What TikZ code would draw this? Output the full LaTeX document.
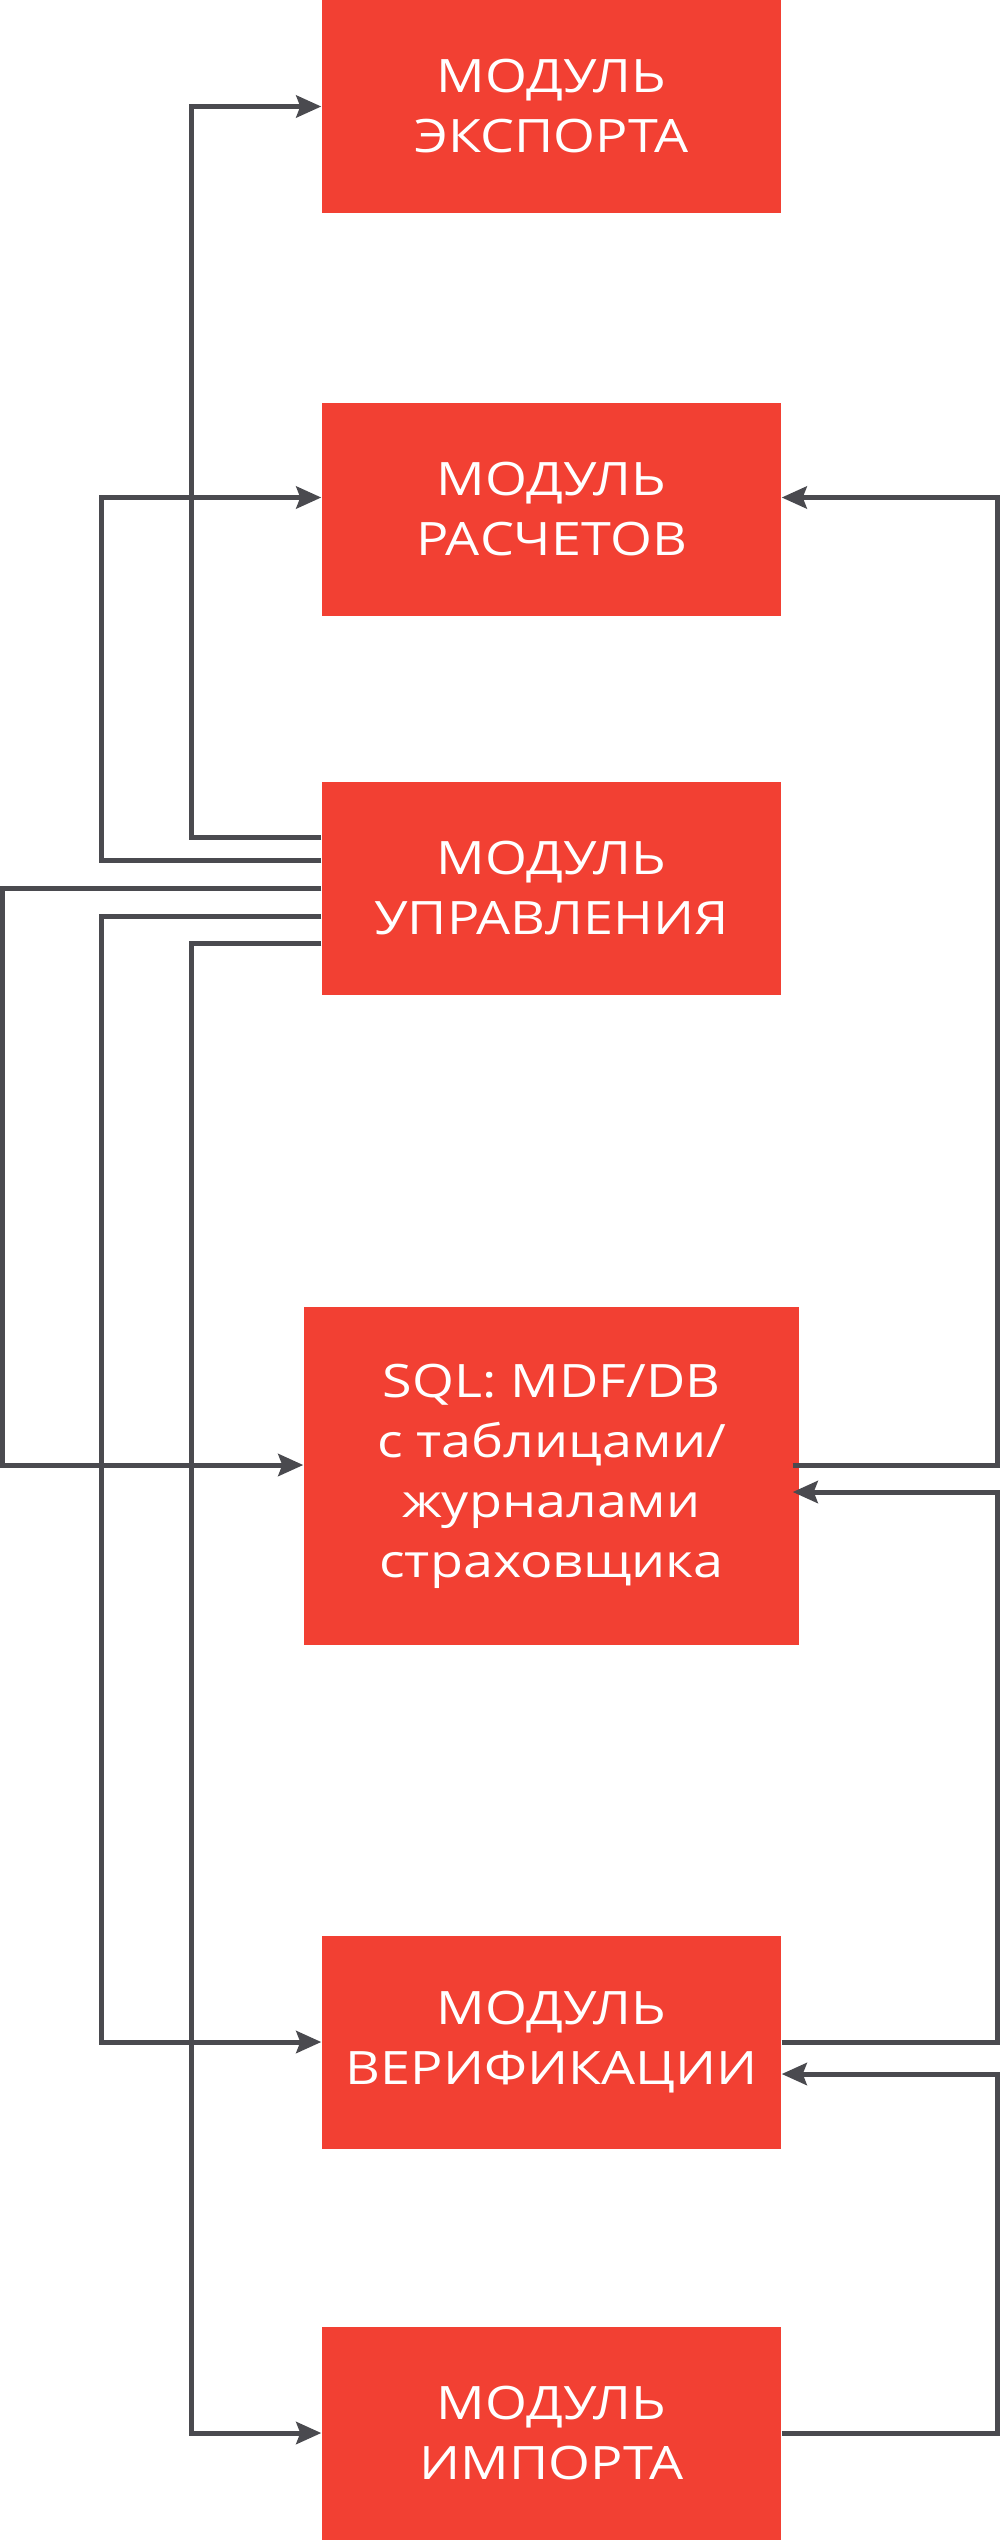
\documentclass[tikz,border=0pt]{standalone}
\usepackage{fontspec}
\setmainfont{Open Sans}[FakeStretch=1.17]
\usepackage{tikz}
\usetikzlibrary{calc, arrows.meta}
\definecolor{modRed}{RGB}{242,64,51}
\definecolor{wireGray}{RGB}{74,74,79}

\begin{document}
\begin{tikzpicture}[
  modbox/.style={fill=modRed, draw=none, text=white, align=center, inner sep=0pt,
    minimum width=4.59cm, minimum height=2.13cm, font=\fontsize{13.1}{17.07}\selectfont},
  wire/.style={draw=wireGray, line width=0.05cm},
  feed/.style={wire, -{Stealth[length=0.25cm, width=0.22cm, inset=0.04cm]}}
]
  \useasboundingbox (0,0) rectangle (10,-25.4);

  % columns of the wires
  \coordinate (xA) at (0.025,0);
  \coordinate (xB) at (1.015,0);
  \coordinate (xC) at (1.915,0);
  \coordinate (xR) at (9.975,0);

  \node[modbox] (export) at (5.515,-1.065) {МОДУЛЬ\\ЭКСПОРТА};
  \node[modbox] (calc) at (5.515,-5.095) {МОДУЛЬ\\РАСЧЕТОВ};
  \node[modbox] (ctrl) at (5.515,-8.885) {МОДУЛЬ\\УПРАВЛЕНИЯ};
  \node[modbox, minimum width=4.95cm, minimum height=3.38cm] (sql) at (5.515,-14.76)
    {SQL: MDF/DB\\с таблицами/\\журналами\\страховщика};
  \node[modbox] (verif) at (5.515,-20.42) {МОДУЛЬ\\ВЕРИФИКАЦИИ};
  \node[modbox] (imp) at (5.515,-24.33) {МОДУЛЬ\\ИМПОРТА};

  % ports
  \coordinate (c1) at ([yshift=0.51cm]ctrl.west);
  \coordinate (c2) at ([yshift=0.28cm]ctrl.west);
  \coordinate (c3) at (ctrl.west);
  \coordinate (c4) at ([yshift=-0.28cm]ctrl.west);
  \coordinate (c5) at ([yshift=-0.55cm]ctrl.west);
  \coordinate (calcL) at ([yshift=0.12cm]calc.west);
  \coordinate (calcR) at ([yshift=0.12cm]calc.east);
  \coordinate (sqlL) at ([yshift=0.11cm]sql.west);
  \coordinate (sqlRo) at ([shift={(-0.07,0.11)}]sql.east);
  \coordinate (sqlRi) at ([shift={(-0.07,-0.16)}]sql.east);
  \coordinate (verifRi) at ([yshift=-0.32cm]verif.east);

  % control module fans out on the left
  \draw[feed] (c1) -- (c1 -| xC) |- (export.west);
  \draw[feed] (c2) -- (c2 -| xB) |- (calcL);
  \draw[feed] (c3) -- (c3 -| xA) |- (sqlL);
  \draw[feed] (c4) -- (c4 -| xB) |- (verif.west);
  \draw[feed] (c5) -- (c5 -| xC) |- (imp.west);

  % data flow on the right
  \draw[feed] (sqlRo) -- (sqlRo -| xR) |- (calcR);
  \draw[feed] (verif.east) -- (verif.east -| xR) |- (sqlRi);
  \draw[feed] (imp.east) -- (imp.east -| xR) |- (verifRi);
\end{tikzpicture}
\end{document}
